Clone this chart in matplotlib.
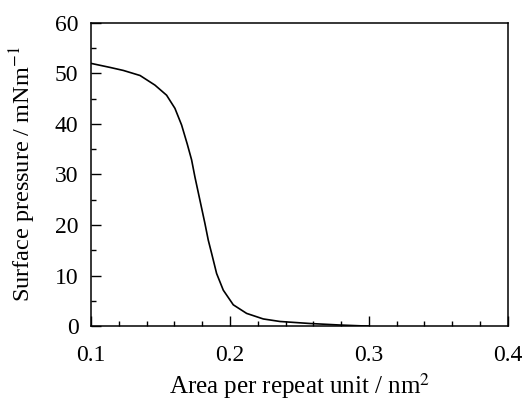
import matplotlib
matplotlib.use("Agg")
import matplotlib.pyplot as plt
from matplotlib.ticker import MultipleLocator

area = [0.100, 0.1137, 0.1233, 0.1353, 0.146, 0.1544, 0.1604, 0.1652, 0.1693,
        0.1724, 0.1748, 0.1784, 0.182, 0.1844, 0.1868, 0.1904, 0.1952, 0.2024,
        0.212, 0.224, 0.236, 0.2576, 0.279, 0.295, 0.300]
pressure = [52.0, 51.2, 50.6, 49.6, 47.7, 45.7, 43.1, 39.8, 36.0,
            32.9, 29.5, 24.9, 20.3, 17.0, 14.4, 10.4, 7.1, 4.2,
            2.5, 1.4, 0.9, 0.5, 0.2, 0.03, 0.0]

xticks = [0.1, 0.2, 0.3, 0.4]
xticklabels = ["0.1", "0.2", "0.3", "0.4"]
yticks = [0, 10, 20, 30, 40, 50, 60]

plt.rcParams['font.family'] = ['Liberation Serif', 'DejaVu Serif']
plt.rcParams['mathtext.fontset'] = 'stix'

fig = plt.figure(figsize=(5.23, 4.03), dpi=100)
ax = fig.add_axes([0.174, 0.191, 0.797, 0.752])
ax.plot(area, pressure, color='black', lw=1.2, solid_joinstyle='round')
ax.set_xlim(0.1, 0.4)
ax.set_ylim(0, 60)
ax.set_xticks(xticks)
ax.set_xticklabels(xticklabels)
ax.set_yticks(yticks)
ax.xaxis.set_minor_locator(MultipleLocator(0.02))
ax.yaxis.set_minor_locator(MultipleLocator(5))
ax.tick_params(which='both', direction='in', top=False, right=False,
               labelsize=17, width=1.0)
ax.tick_params(axis='x', pad=14)
ax.tick_params(axis='y', pad=9)
ax.tick_params(which='major', length=7)
ax.tick_params(which='minor', length=3.5)
for s in ax.spines.values():
    s.set_linewidth(1.1)
ax.set_xlabel("Area per repeat unit / nm$^2$", fontsize=18, labelpad=3)
ax.set_ylabel("Surface pressure / mNm$^{-1}$", fontsize=17.5, labelpad=12)
fig.savefig("out.png", dpi=100)
